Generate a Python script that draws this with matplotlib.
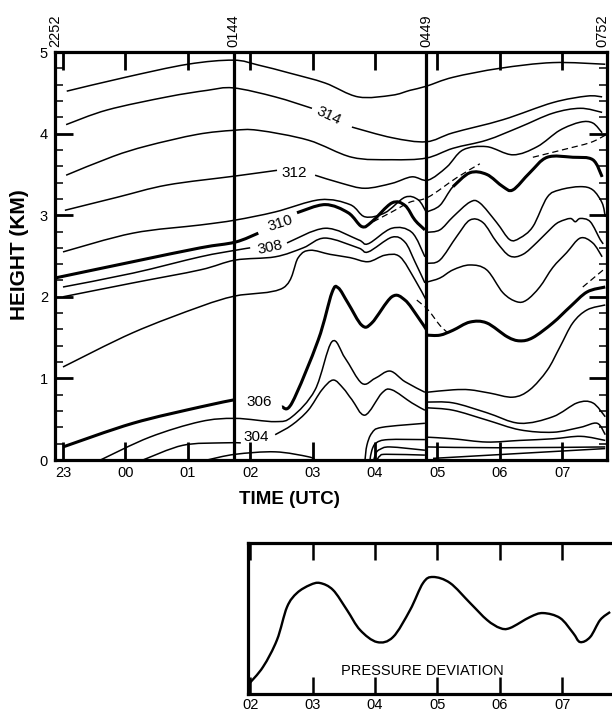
import numpy as np
import matplotlib
matplotlib.use("Agg")
import matplotlib.pyplot as plt
from matplotlib.path import Path
from matplotlib.patches import PathPatch

plt.rcParams['font.family'] = ['Liberation Sans', 'DejaVu Sans']

# ---------------- data (time in hours after 23 UTC, height in km) ----------------
x_tick_labels = ['23', '00', '01', '02', '03', '04', '05', '06', '07']
top_labels = ['2252', '0144', '0449', '0752']
top_times = [-0.128, 2.733, 5.817, 8.65]
sounding_times = [2.733, 5.817]

A_t = [0.06, 1.0, 2.0, 2.73, 3.13, 3.64, 4.20, 4.73, 5.27, 5.56, 5.82, 6.25, 7.0, 7.85, 8.69]
A_h = [4.52, 4.69, 4.85, 4.90, 4.84, 4.74, 4.62, 4.45, 4.47, 4.53, 4.58, 4.69, 4.80, 4.87, 4.85]

B1_t = [0.05, 0.71, 1.67, 2.31, 2.73, 3.40, 3.99]
B1_h = [4.11, 4.29, 4.45, 4.53, 4.56, 4.45, 4.31]
B2_t = [4.63, 5.27, 5.82, 6.25, 7.05, 7.85, 8.40, 8.64]
B2_h = [4.08, 3.95, 3.90, 4.01, 4.17, 4.38, 4.46, 4.45]

C_t = [0.05, 0.80, 1.35, 2.15, 2.73, 3.13, 3.93, 4.63, 5.27, 5.82, 6.25, 6.79, 7.32, 7.85, 8.29, 8.64]
C_h = [3.49, 3.72, 3.85, 3.99, 4.04, 4.04, 3.92, 3.71, 3.68, 3.70, 3.82, 3.92, 4.08, 4.25, 4.31, 4.26]

D1_t = [0.03, 0.87, 1.67, 2.76, 3.43]
D1_h = [3.06, 3.22, 3.37, 3.48, 3.55]
D2_t = [4.04, 4.47, 4.84, 5.27, 5.59, 5.85, 6.15, 6.41, 6.79, 7.21, 7.60, 7.96, 8.29, 8.49, 8.64]
D2_h = [3.49, 3.39, 3.33, 3.39, 3.47, 3.43, 3.59, 3.80, 3.84, 3.74, 3.84, 4.04, 4.14, 4.13, 4.01]

E1_t = [0.0, 1.12, 2.20, 2.76, 3.40, 4.12, 4.60, 4.84, 5.16, 5.48, 5.69, 5.82]
E1_h = [2.55, 2.78, 2.88, 2.94, 3.04, 3.19, 3.13, 2.98, 3.03, 3.22, 3.19, 3.04]
E2_t = [5.83, 6.04, 6.25, 6.52, 6.79, 7.05, 7.21, 7.48, 7.76, 8.17, 8.49, 8.64]
E2_h = [3.04, 3.12, 3.35, 3.52, 3.50, 3.35, 3.31, 3.52, 3.71, 3.71, 3.68, 3.47]

F1_t = [-0.13, 1.12, 2.20, 2.76, 3.13]
F1_h = [2.23, 2.43, 2.60, 2.67, 2.78]
F2_t = [3.75, 4.20, 4.57, 4.79, 4.95, 5.27, 5.48, 5.64, 5.80]
F2_h = [3.03, 3.13, 3.03, 2.86, 2.92, 3.15, 3.12, 2.94, 2.82]
F3_t = [5.83, 6.04, 6.25, 6.52, 6.68, 6.95, 7.16, 7.32, 7.53, 7.76, 7.96, 8.29, 8.49, 8.64, 8.69]
F3_h = [2.79, 2.82, 2.98, 3.16, 3.15, 2.91, 2.70, 2.72, 2.86, 3.22, 3.31, 3.35, 3.31, 3.15, 2.98]

G1_t = [0.0, 1.12, 2.20, 2.76, 3.0]
G1_h = [2.12, 2.29, 2.49, 2.57, 2.60]
G2_t = [3.59, 4.20, 4.73, 4.89, 5.27, 5.59, 5.80]
G2_h = [2.66, 2.84, 2.70, 2.65, 2.84, 2.79, 2.49]
G3_t = [5.83, 6.04, 6.31, 6.52, 6.73, 6.95, 7.16, 7.37, 7.60, 7.85, 7.96, 8.13, 8.21, 8.29, 8.45, 8.61, 8.66]
G3_h = [2.41, 2.45, 2.74, 2.94, 2.91, 2.67, 2.50, 2.52, 2.67, 2.86, 2.92, 2.96, 2.92, 2.96, 2.92, 2.70, 2.65]

H1_t = [0.0, 1.12, 2.20, 2.76, 3.40, 3.85, 4.20, 4.73, 4.89, 5.27, 5.48, 5.64, 5.80]
H1_h = [2.00, 2.17, 2.33, 2.45, 2.49, 2.60, 2.72, 2.60, 2.55, 2.73, 2.67, 2.43, 2.17]
H2_t = [5.83, 6.04, 6.25, 6.52, 6.79, 7.05, 7.27, 7.43, 7.64, 7.85, 8.07, 8.29, 8.49, 8.64]
H2_h = [2.18, 2.23, 2.33, 2.39, 2.33, 2.05, 1.94, 1.96, 2.12, 2.36, 2.54, 2.72, 2.66, 2.49]

I_t = [0.0, 1.12, 2.20, 2.76, 3.53, 3.77, 3.96, 4.28, 4.60, 4.89, 5.16, 5.40, 5.64, 5.82]
I_h = [1.14, 1.56, 1.88, 2.01, 2.11, 2.48, 2.57, 2.52, 2.48, 2.43, 2.51, 2.49, 2.21, 1.96]

J1_t = [0.0, 1.12, 2.20, 2.76]
J1_h = [0.16, 0.45, 0.65, 0.74]
J2_t = [3.51, 3.67, 4.09, 4.31, 4.41, 4.57, 4.79, 4.95, 5.27, 5.48, 5.69, 5.83]
J2_h = [0.65, 0.70, 1.47, 2.05, 2.11, 1.92, 1.65, 1.68, 2.00, 1.96, 1.75, 1.59]
J3_t = [5.83, 6.04, 6.25, 6.52, 6.79, 7.12, 7.32, 7.53, 7.85, 8.13, 8.40, 8.69]
J3_h = [1.53, 1.53, 1.59, 1.69, 1.68, 1.51, 1.46, 1.50, 1.68, 1.88, 2.06, 2.12]

K_t = [0.60, 1.39, 2.20, 2.76, 3.40, 3.67, 4.04, 4.31, 4.52, 4.79, 5.0, 5.24, 5.48, 5.80]
K_h = [0.0, 0.28, 0.47, 0.51, 0.47, 0.53, 0.86, 1.45, 1.25, 0.94, 1.00, 1.09, 0.96, 0.83]
P_t = [5.83, 6.25, 6.52, 6.84, 7.21, 7.48, 7.76, 7.96, 8.17, 8.40, 8.69]
P_h = [0.83, 0.86, 0.86, 0.82, 0.77, 0.86, 1.10, 1.38, 1.68, 1.84, 1.90]

L1_t = [1.28, 1.92, 2.55, 2.85]
L1_h = [0.0, 0.18, 0.21, 0.21]
L2_t = [3.40, 3.67, 3.93, 4.15, 4.33, 4.49, 4.63, 4.84, 5.11, 5.27, 5.59, 5.80]
L2_h = [0.31, 0.43, 0.61, 0.86, 0.98, 0.88, 0.74, 0.55, 0.82, 0.86, 0.70, 0.61]

Q_t = [5.83, 6.25, 6.79, 7.32, 7.85, 8.24, 8.49, 8.69]
Q_h = [0.71, 0.70, 0.58, 0.45, 0.53, 0.70, 0.70, 0.53]
R_t = [5.83, 6.25, 6.79, 7.32, 7.85, 8.29, 8.56, 8.69]
R_h = [0.64, 0.61, 0.49, 0.37, 0.34, 0.40, 0.45, 0.31]
S_t = [5.83, 6.25, 6.79, 7.32, 7.85, 8.30, 8.69]
S_h = [0.28, 0.26, 0.22, 0.24, 0.26, 0.29, 0.24]
T_t = [5.83, 7.00, 8.69]
T_h = [0.16, 0.15, 0.16]
U_t = [5.93, 8.69]
U_h = [0.02, 0.14]

M_t = [2.31, 2.76, 3.40, 3.93, 4.04]
M_h = [0.0, 0.07, 0.10, 0.04, 0.0]

Em1_t = [4.84, 4.87, 4.95, 5.11, 5.80]
Em1_h = [0.0, 0.18, 0.33, 0.40, 0.45]
Em2_t = [4.92, 4.95, 5.02, 5.21, 5.80]
Em2_h = [0.0, 0.12, 0.21, 0.25, 0.25]
Em3_t = [4.98, 5.02, 5.08, 5.24, 5.80]
Em3_h = [0.0, 0.09, 0.13, 0.16, 0.12]
Em4_t = [5.03, 5.08, 5.18, 5.80]
Em4_h = [0.0, 0.05, 0.07, 0.06]

DU1_t = [4.97, 5.27, 5.56, 5.85, 6.31, 6.68]
DU1_h = [2.92, 3.04, 3.16, 3.22, 3.46, 3.63]
DU2_t = [7.53, 8.00, 8.45, 8.69]
DU2_h = [3.71, 3.80, 3.89, 3.98]
DL1_t = [5.67, 5.85, 6.04, 6.15]
DL1_h = [1.96, 1.84, 1.65, 1.57]
DL2_t = [8.33, 8.69]
DL2_h = [2.12, 2.35]

label_text = ['314', '312', '310', '308', '306', '304']
label_t = [4.26, 3.70, 3.48, 3.32, 3.14, 3.09]
label_h = [4.22, 3.52, 2.90, 2.60, 0.71, 0.28]
label_rot = [-25, 0, 18, 12, 0, 0]

# pressure deviation (relative units)
p_t = [2.965, 3.205, 3.429, 3.590, 3.750, 3.958, 4.119, 4.327, 4.551, 4.760, 5.032, 5.288,
       5.561, 5.769, 5.929, 6.202, 6.522, 6.795, 7.003, 7.163, 7.484, 7.692, 7.965, 8.173,
       8.285, 8.446, 8.606, 8.766]
p_v = [0.060, 0.179, 0.358, 0.576, 0.669, 0.722, 0.735, 0.689, 0.556, 0.424, 0.344, 0.377,
       0.556, 0.735, 0.775, 0.735, 0.603, 0.490, 0.437, 0.437, 0.510, 0.536, 0.503, 0.404,
       0.344, 0.377, 0.490, 0.543]
p_tick_labels = ['02', '03', '04', '05', '06', '07']


def smooth_path(t, h):
    P = np.column_stack([t, h]).astype(float)
    n = len(P)
    if n == 2:
        return Path(P)
    verts = [P[0]]
    codes = [Path.MOVETO]
    for i in range(n - 1):
        p0 = P[i - 1] if i > 0 else P[i]
        p1 = P[i]
        p2 = P[i + 1]
        p3 = P[i + 2] if i + 2 < n else P[i + 1]
        c1 = p1 + (p2 - p0) / 6.0
        c2 = p2 - (p3 - p1) / 6.0
        verts += [c1, c2, p2]
        codes += [Path.CURVE4] * 3
    return Path(verts, codes)


def draw(ax, t, h, lw=1.1, ls='-'):
    ax.add_patch(PathPatch(smooth_path(t, h), fill=False, edgecolor='black',
                           lw=lw, linestyle=ls, capstyle='butt', joinstyle='round'))


W, H = 612, 713
fig = plt.figure(figsize=(W / 100, H / 100), dpi=100)
ax = fig.add_axes([55 / W, 1 - 460 / H, (607 - 55) / W, (460 - 52) / H])
ax.set_xlim(-0.128, 8.718)
ax.set_ylim(0, 5)

thin, thick = 1.1, 2.2
for t, h in [(A_t, A_h), (B1_t, B1_h), (B2_t, B2_h), (C_t, C_h), (D1_t, D1_h), (D2_t, D2_h),
             (E1_t, E1_h), (E2_t, E2_h), (F3_t, F3_h), (G1_t, G1_h), (G2_t, G2_h), (G3_t, G3_h),
             (H1_t, H1_h), (H2_t, H2_h), (I_t, I_h), (K_t, K_h), (P_t, P_h),
             (L1_t, L1_h), (L2_t, L2_h), (Q_t, Q_h), (R_t, R_h), (S_t, S_h), (T_t, T_h),
             (U_t, U_h), (M_t, M_h), (Em1_t, Em1_h), (Em2_t, Em2_h), (Em3_t, Em3_h),
             (Em4_t, Em4_h)]:
    draw(ax, t, h, thin)
for t, h in [(E2_t[2:], E2_h[2:]), (F1_t, F1_h), (F2_t, F2_h), (J1_t, J1_h), (J2_t, J2_h),
             (J3_t, J3_h)]:
    draw(ax, t, h, thick)
for t, h in [(DU1_t, DU1_h), (DU2_t, DU2_h), (DL1_t, DL1_h), (DL2_t, DL2_h)]:
    draw(ax, t, h, 0.9, (0, (5, 3)))

for s, t, h, r in zip(label_text, label_t, label_h, label_rot):
    ax.text(t, h, s, rotation=r, ha='center', va='center', fontsize=11,
            rotation_mode='anchor')

for st in sounding_times:
    ax.axvline(st, color='black', lw=2.3)

for s in ax.spines.values():
    s.set_linewidth(2.3)

ax.set_xticks(np.arange(0, 9))
ax.set_xticklabels(x_tick_labels)
ax.set_yticks(np.arange(0, 6))
ax.set_yticks(np.arange(0, 5.01, 0.2), minor=True)
ax.tick_params(which='major', direction='in', length=13, width=2, top=True, right=True,
               labelsize=10.5)
ax.tick_params(axis='x', which='major', pad=4)
ax.tick_params(axis='y', which='major', pad=5)
ax.tick_params(axis='y', which='minor', direction='in', length=6, width=1.1, left=True,
               right=True)

for s, t in zip(top_labels, top_times):
    ax.text(t, 1.012, s, transform=ax.get_xaxis_transform(), rotation=90, ha='center',
            va='bottom', fontsize=10.5)

fig.text(20 / W, 1 - 255 / H, 'HEIGHT (KM)', rotation=90, ha='center', va='center',
         fontsize=15, fontweight='bold')
fig.text(289 / W, 1 - 499 / H, 'TIME (UTC)', ha='center', va='center', fontsize=13.5,
         fontweight='bold')

# ---------------- pressure deviation panel ----------------
bx = fig.add_axes([248 / W, 1 - 694 / H, (616 - 248) / W, (694 - 543) / H])
bx.set_xlim(2.965, 8.86)
bx.set_ylim(0, 1)
draw(bx, p_t, p_v, 1.7)
bx.set_xticks(np.arange(3, 9))
bx.set_xticklabels(p_tick_labels)
bx.set_yticks([])
bx.tick_params(axis='x', direction='in', length=12, width=1.8, top=True, labelsize=10.5,
               pad=3)
for s in bx.spines.values():
    s.set_linewidth(2.3)
bx.text(5.753, 0.152, 'PRESSURE DEVIATION', ha='center', va='center', fontsize=10.5)

fig.savefig('out.png', dpi=100)
